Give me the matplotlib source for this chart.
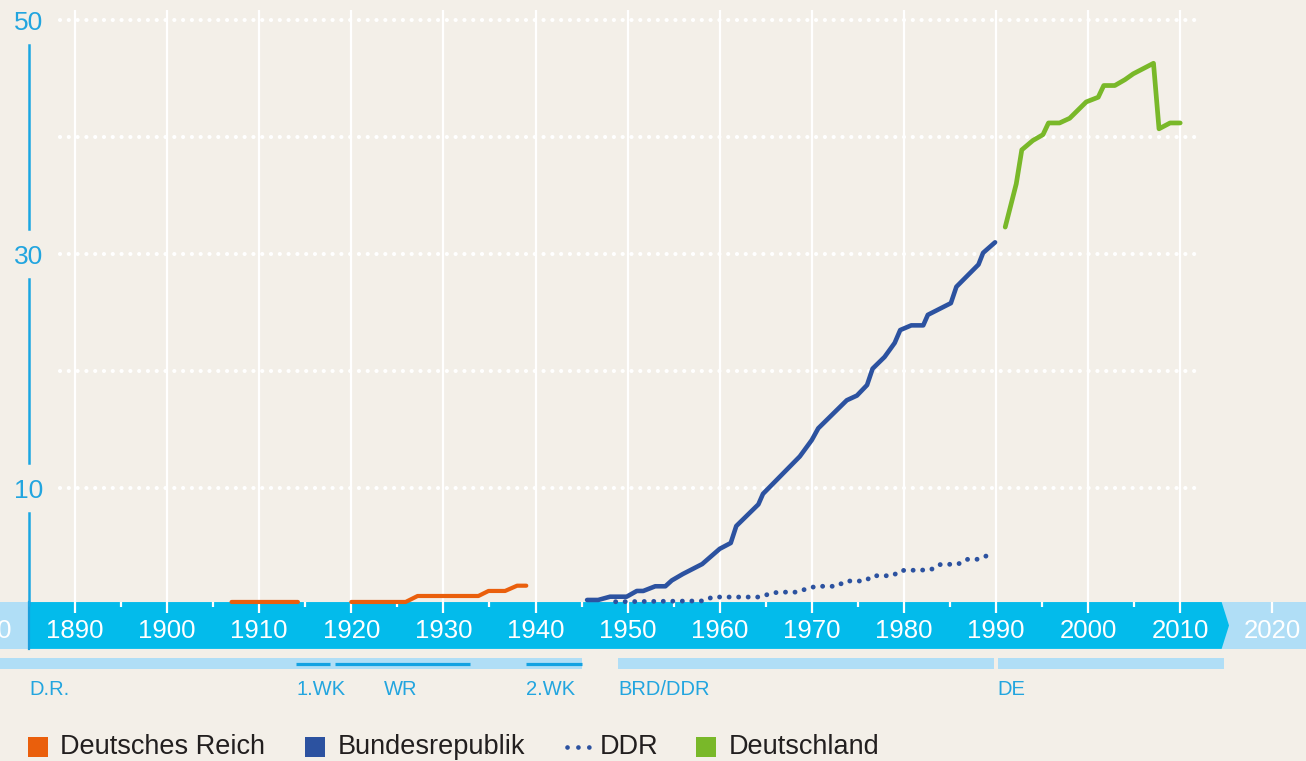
import numpy as np
import matplotlib.pyplot as plt
from matplotlib.patches import Rectangle, Polygon

plt.rcParams['font.family'] = ['Liberation Sans', 'DejaVu Sans']

BG = '#f3efe8'
BAND = '#03bbeb'
BAND_LIGHT = '#b0def6'
TXT_BLUE = '#22a5df'
C_DR = '#ea5f0c'
C_BRD = '#2c52a0'
C_DE = '#79b829'

# --- data ---
dr_years = [1907, 1914.2, np.nan, 1920, 1925.9, 1927.2, 1933.8, 1934.9, 1936.7, 1938, 1939]
dr_vals = [0.26, 0.26, np.nan, 0.26, 0.26, 0.77, 0.77, 1.2, 1.2, 1.65, 1.65]

brd_years = [1945.6, 1946.8, 1948.1, 1949.9, 1951.0, 1951.7, 1953.0, 1954.1, 1954.8, 1956.0,
             1958.1, 1960.0, 1961.2, 1961.8, 1964.2, 1964.7, 1968.7, 1970.0, 1970.7, 1973.8,
             1974.9, 1976.0, 1976.6, 1977.9, 1979.0, 1979.6, 1980.8, 1982.1, 1982.6, 1985.1,
             1985.7, 1988.1, 1988.6, 1989.9]
brd_vals = [0.43, 0.43, 0.71, 0.71, 1.2, 1.2, 1.6, 1.6, 2.1, 2.65,
            3.5, 4.8, 5.3, 6.75, 8.6, 9.5, 12.7, 14.1, 15.1, 17.5,
            17.9, 18.8, 20.2, 21.2, 22.4, 23.5, 23.9, 23.9, 24.8, 25.8,
            27.2, 29.1, 30.1, 31.0]

ddr_years = [1948.7, 1958.3, 1959.2, 1964.5, 1965.5, 1966.5, 1968.5, 1969.6, 1970.6, 1972.7,
             1973.7, 1975.8, 1976.6, 1978.8, 1979.6, 1982.9, 1983.8, 1985.9, 1986.8, 1987.9,
             1988.8, 1989.6]
ddr_vals = [0.28, 0.35, 0.68, 0.68, 1.0, 1.1, 1.1, 1.45, 1.6, 1.6,
            2.05, 2.05, 2.5, 2.5, 2.95, 3.0, 3.45, 3.5, 3.9, 3.9,
            4.1, 4.7]

de_years = [1991.0, 1992.2, 1992.8, 1994.0, 1995.1, 1995.7, 1996.9, 1998.0, 1999.8, 2001.1,
            2001.7, 2002.9, 2004.0, 2004.9, 2007.1, 2007.7, 2008.9, 2010.0]
de_vals = [32.3, 36.0, 38.9, 39.7, 40.2, 41.2, 41.2, 41.6, 43.0, 43.4,
           44.4, 44.4, 44.9, 45.4, 46.3, 40.7, 41.2, 41.2]

decades = list(range(1880, 2030, 10))
half_decades = list(range(1895, 2010, 10))
grid_vals = [10, 20, 30, 40, 50]
y_labels = [10, 30, 50]

# periods below the time axis: (start, end)
period_strips = [(1871, 1945.0), (1949.0, 1989.8), (1990.2, 2014.8)]
wars = [(1914.0, 1917.7), (1918.2, 1932.9), (1939.0, 1945.0)]
period_labels = [('D.R.', 1885.0, 'left'), ('1.WK', 1914.0, 'left'), ('WR', 1925.4, 'center'),
                 ('2.WK', 1939.0, 'left'), ('BRD/DDR', 1949.0, 'left'), ('DE', 1990.2, 'left')]

legend_items = [('Deutsches Reich', C_DR, 'square'), ('Bundesrepublik', C_BRD, 'square'),
                ('DDR', C_BRD, 'dots'), ('Deutschland', C_DE, 'square')]


def main():
    W, H = 1306, 761
    fig = plt.figure(figsize=(W / 100, H / 100), dpi=100, facecolor=BG)
    ax = fig.add_axes([0, 0, 1, 1])
    ax.set_facecolor(BG)
    ax.axis('off')

    ppy = 9.21   # px per year
    ppv = 11.7   # px per unit
    x0 = 1890 - 75 / ppy
    y_top = 605 / ppv
    ax.set_xlim(x0, x0 + W / ppy)
    ax.set_ylim(y_top - H / ppv, y_top)

    spine_x = 1885.0
    band_top, band_bot = 0.25, -3.75

    # light band behind everything, dark band with arrow
    ax.add_patch(Rectangle((x0, band_bot), W / ppy, band_top - band_bot,
                           color=BAND_LIGHT, lw=0, zorder=1))
    ax.add_patch(Polygon([(spine_x, band_top), (2014.5, band_top), (2015.3, (band_top + band_bot) / 2),
                          (2014.5, band_bot), (spine_x, band_bot)],
                         closed=True, color=BAND, lw=0, zorder=2))

    # vertical grid + ticks
    ax.vlines(decades[1:-1], -0.68, 50.85, colors='white', lw=1.6, zorder=3)
    ax.vlines([decades[-1]], -0.68, band_top, colors='white', lw=1.6, zorder=3)
    ax.vlines(half_decades, -0.2, band_top, colors='white', lw=1.6, zorder=3)

    # dotted horizontal grid
    for v in grid_vals:
        ax.plot([1888.4, 2011.6], [v, v], color='white', lw=3.0,
                linestyle=(0, (0.01, 2.1)), dash_capstyle='round', zorder=3)

    # y-axis line with gaps around labels
    ax.plot([spine_x, spine_x], [band_bot, band_top], color='#1a9fdc', lw=1.6, zorder=4)
    lo = 0
    for v in y_labels:
        ax.plot([spine_x, spine_x], [lo + (2.1 if lo else 0), v - 2.1], color='#1aa6e2', lw=1.8, zorder=4)
        lo = v
    for v in y_labels:
        ax.text(spine_x, v - 0.25, str(v), color=TXT_BLUE, fontsize=19,
                ha='center', va='center', zorder=5)

    # x tick labels inside band
    for d in decades:
        ax.text(d, -2.2, str(d), color='white', fontsize=18.5,
                ha='center', va='center', zorder=5)

    # period strips
    for a, b in period_strips:
        ax.add_patch(Rectangle((a, -5.47), b - a, 0.94, color=BAND_LIGHT, lw=0, zorder=2))
    for a, b in wars:
        ax.plot([a, b], [-5.02, -5.02], color='#13a2e2', lw=2.3, solid_capstyle='butt', zorder=3)
    for txt, xx, ha in period_labels:
        ax.text(xx, -7.2, txt, color=TXT_BLUE, fontsize=14.5,
                ha=ha, va='center', zorder=5)

    # data lines
    ax.plot(dr_years, dr_vals, color=C_DR, lw=3.0, solid_capstyle='round', solid_joinstyle='round', zorder=6)
    ax.plot(brd_years, brd_vals, color=C_BRD, lw=3.3, solid_capstyle='round', solid_joinstyle='round', zorder=6)
    ax.plot(ddr_years, ddr_vals, color=C_BRD, lw=3.5, linestyle=(0, (0.01, 1.95)),
            dash_capstyle='round', zorder=6)
    ax.plot(de_years, de_vals, color=C_DE, lw=3.4, solid_capstyle='round', solid_joinstyle='round', zorder=6)

    # legend (figure pixel layout)
    lx = [28, 305, 566, 696]
    tx = [60, 338, 600, 729]
    ly = 747
    for (label, col, kind), sx, txx in zip(legend_items, lx, tx):
        if kind == 'square':
            fig.patches.append(Rectangle((sx / W, 1 - (ly + 10) / H), 20 / W, 20 / H,
                                         transform=fig.transFigure, color=col, lw=0))
        else:
            fig.add_artist(plt.Line2D([(sx + 1) / W, (sx + 24) / W], [1 - ly / H] * 2,
                                      transform=fig.transFigure, color=col, lw=3.4,
                                      linestyle=(0, (0.01, 2.3)), dash_capstyle='round'))
        fig.text(txx / W, 1 - ly / H, label, color='#221f1f', fontsize=19.5,
                 ha='left', va='center')

    fig.savefig('out.png', dpi=100, facecolor=BG)


if __name__ == "__main__":
    main()
